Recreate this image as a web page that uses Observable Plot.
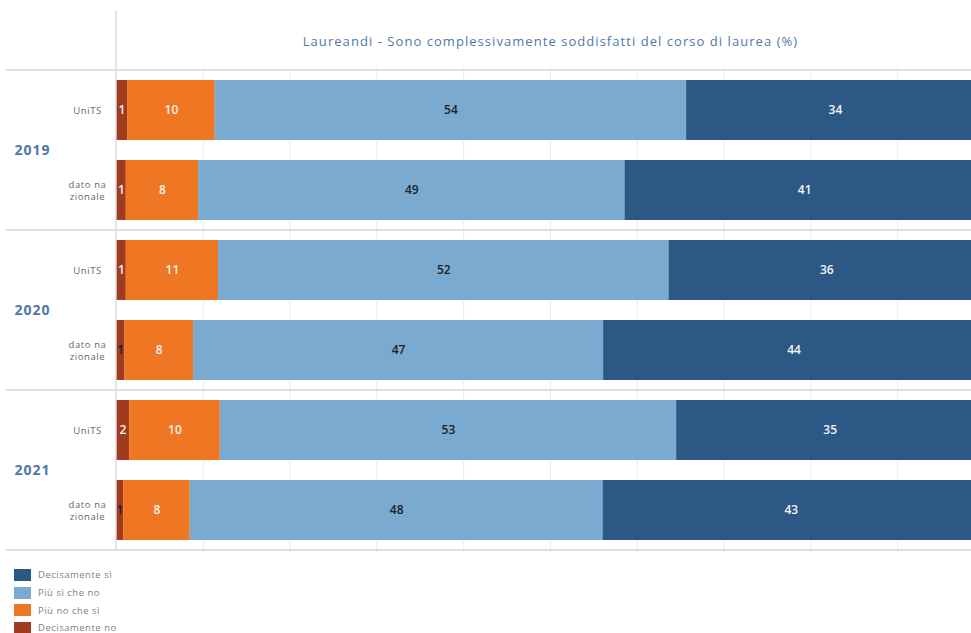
<!DOCTYPE html>
<html><head><meta charset="utf-8">
<script src="https://cdn.jsdelivr.net/npm/d3@7"></script>
<script src="https://cdn.jsdelivr.net/npm/@observablehq/plot@0.6"></script>
<style>
html,body{margin:0;padding:0;background:#fff;overflow:hidden;width:971px;height:633px}
#chart svg{display:block;overflow:hidden}
#legend{margin-top:10px;padding-left:14px;font-family:"Open Sans",sans-serif;font-size:9.5px;color:#808080;letter-spacing:0.5px}
#legend .item{display:flex;align-items:center;height:17.7px}
#legend .sw{width:17px;height:12px;margin-right:7px;flex:none}
</style></head><body>
<div id="chart"></div>
<div id="legend"></div>
<script>
const title = "Laureandi - Sono complessivamente soddisfatti del corso di laurea (%)";
const years = ["2019", "2020", "2021"];
const groups = ["UniTS", "dato nazionale"];
const groupLabels = ["UniTS", "dato na\nzionale"];
const categories = ["Decisamente no", "Più no che sì", "Più sì che no", "Decisamente sì"];
const legendOrder = ["Decisamente sì", "Più sì che no", "Più no che sì", "Decisamente no"];
const colors = ["#a03b20", "#ef7622", "#7aaacf", "#2c5885"];
// order of rows: 2019 UniTS, 2019 naz, 2020 UniTS, 2020 naz, 2021 UniTS, 2021 naz
const decisamenteNo = [1.28, 1.13, 1.13, 0.98, 1.51, 0.82];
const piuNoCheSi = [10.1, 8.33, 10.63, 7.9, 10.45, 7.68];
const piuSiCheNo = [54.3, 49.12, 51.89, 47.24, 52.57, 47.55];
const decisamenteSi = [34.3, 41.4, 36.35, 43.88, 35.39, 43.4];
const xTicks = [0, 10, 20, 30, 40, 50, 60, 70, 80, 90, 100];

const series = [decisamenteNo, piuNoCheSi, piuSiCheNo, decisamenteSi];
const rows = years.flatMap(yr => groups.map((g, gi) => ({year: yr, group: g, label: groupLabels[gi], key: yr + "|" + g})));
const data = categories.flatMap((c, ci) => rows.map((r, i) => ({...r, category: c, value: series[ci][i]})));

const W = 971, H = 556, ML = 116, MT = 68, MB = 4;
const PI = 0.25, PO = 0.125;
const step = (H - MB - MT) / (rows.length - PI + 2 * PO);
const FONT = "'Open Sans', sans-serif";

function whiteLabel(d) {
  if (d.category === "Decisamente no") return d.value >= 1.05;
  return d.category === "Più no che sì" || d.category === "Decisamente sì";
}
const stackOpts = {x: "value", y: "key", z: "category", order: categories, text: d => String(Math.round(d.value))};

const plot = Plot.plot({
  width: W, height: H,
  marginLeft: ML, marginRight: 0, marginTop: MT, marginBottom: MB,
  style: {fontFamily: FONT, background: "white", overflow: "hidden"},
  x: {domain: [0, 100], range: [ML, 984], axis: null},
  y: {domain: rows.map(r => r.key), paddingInner: PI, paddingOuter: PO, axis: null},
  color: {domain: categories, range: colors},
  marks: [
    Plot.ruleX(xTicks.slice(1), {stroke: "#ececec", strokeWidth: 1}),
    Plot.barX(data, Plot.stackX({x: "value", y: "key", fill: "category", order: categories})),
    Plot.text(data, Plot.filter(d => whiteLabel(d), Plot.stackX({...stackOpts, fill: "#f4f4f4", fontSize: 12, fontWeight: 600}))),
    Plot.text(data, Plot.filter(d => !whiteLabel(d), Plot.stackX({...stackOpts, fill: "#222", fontSize: 12, fontWeight: 600}))),
    Plot.text(rows, {y: "key", text: "label", frameAnchor: "left", dx: -29, textAnchor: "middle", fontSize: 9.5, fill: "#666", lineHeight: 1.2}),
    Plot.text(years, {y: yr => yr + "|dato nazionale", text: d => d, frameAnchor: "left", dx: -84, dy: -step / 2, textAnchor: "middle", fontSize: 14, fontWeight: 700, fill: "#4e79a7"}),
    Plot.text([title], {x: [50], text: d => d, frameAnchor: "top", dy: -32, fontSize: 13, fill: "#4e79a7"})
  ]
});
document.getElementById("chart").appendChild(plot);

const svg = d3.select(plot);
// letter spacing to match the reference's wide font
svg.selectAll("text").each(function() {
  const t = this.textContent;
  if (t === title) this.style.letterSpacing = "1.05px";
  else if (years.includes(t)) this.style.letterSpacing = "1px";
  else if (groupLabels.map(s => s.replace("\n", "")).includes(t) || t === "UniTS") this.style.letterSpacing = "0.6px";
});

// structural lines drawn from the library's y scale
const ys = plot.scale("y");
const sepY = years.map(yr => ys.apply(yr + "|UniTS") - ys.step * PO);
sepY.push(ys.apply(rows[rows.length - 1].key) + ys.bandwidth + ys.step * PO);
const g = svg.append("g");
g.selectAll("line.sep").data(sepY).join("line")
  .attr("x1", 6).attr("x2", W).attr("y1", d => d).attr("y2", d => d)
  .attr("stroke", "#d6d6d6").attr("stroke-width", 1.3);
g.append("line").attr("x1", ML).attr("x2", ML).attr("y1", 11).attr("y2", sepY[sepY.length - 1])
  .attr("stroke", "#dcdcdc").attr("stroke-width", 1.5);

// legend
const leg = d3.select("#legend");
legendOrder.forEach(c => {
  const it = leg.append("div").attr("class", "item");
  it.append("div").attr("class", "sw").style("background", colors[categories.indexOf(c)]);
  it.append("span").text(c);
});
</script>
</body></html>
